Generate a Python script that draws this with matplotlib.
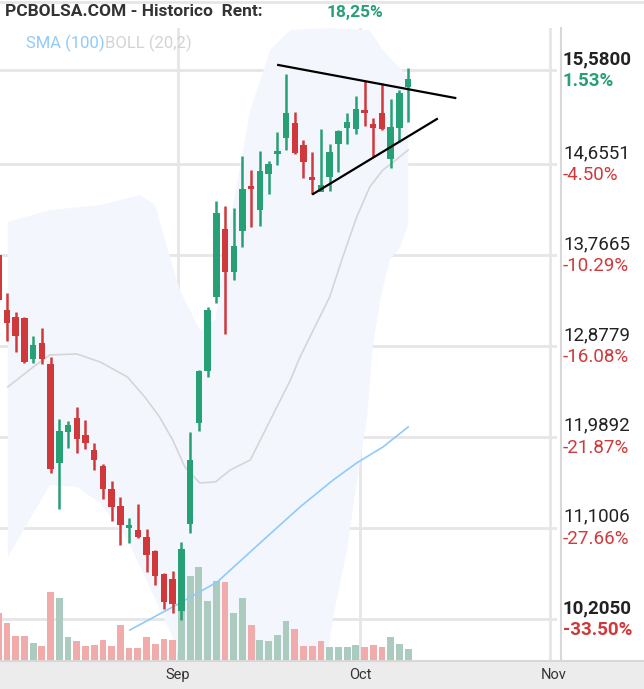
import matplotlib
matplotlib.use("Agg")
import matplotlib.pyplot as plt
from matplotlib.lines import Line2D
from matplotlib.patches import Rectangle
import numpy as np

plt.rcParams['font.family'] = ['Roboto', 'DejaVu Sans']

opens = [13.769,13.230,13.162,13.152,12.751,12.907,12.702,11.733,12.036,12.173,12.007,11.860,11.703,11.478,11.311,11.096,11.077,11.008,10.871,10.646,10.597,10.284,11.135,12.124,12.633,13.358,14.023,13.602,14.004,14.435,14.210,14.562,14.758,14.914,15.061,14.846,14.532,14.386,14.532,14.855,15.012,15.002,15.169,15.051,15.159,14.709,15.012,15.414]
highs = [13.818,13.397,13.211,13.162,12.976,13.054,12.770,12.163,12.144,12.281,12.153,11.928,11.723,11.556,11.400,11.194,11.331,11.086,10.881,10.656,10.675,10.959,12.036,12.643,13.260,14.298,14.249,14.229,14.738,14.601,14.787,14.689,14.973,15.541,15.169,14.895,14.777,15.002,14.855,14.993,15.159,15.325,15.472,15.110,15.453,15.296,15.384,15.600]
lows = [13.250,12.927,12.819,12.712,12.712,12.702,11.635,11.282,11.879,11.830,11.870,11.664,11.380,11.165,10.930,10.949,10.998,10.665,10.538,10.303,10.264,10.196,11.047,12.046,12.574,13.299,12.995,13.524,13.847,14.043,14.053,14.366,14.650,14.797,14.758,14.523,14.366,14.435,14.395,14.581,14.855,14.953,15.032,14.728,14.993,14.621,14.875,15.071]
closes = [13.328,13.103,12.976,12.721,12.888,12.751,11.674,12.046,12.105,11.968,11.928,11.762,11.478,11.302,11.125,11.125,11.008,10.832,10.626,10.372,10.352,10.891,11.762,12.633,13.230,14.180,13.602,13.857,14.415,14.415,14.591,14.660,14.777,15.159,14.767,14.679,14.503,14.454,14.777,14.983,15.071,15.198,15.159,15.012,15.002,15.022,15.355,15.492]
volumes = [47,37,24,24,17,14,68,62,23,19,14,15,20,14,35,12,12,23,16,21,20,111,84,93,59,79,78,47,62,35,20,19,25,39,31,14,14,19,13,13,13,15,13,15,13,23,16,11]
vol_up = [0,0,0,0,1,0,0,1,1,0,0,0,0,0,0,0,0,0,0,0,0,1,1,1,1,1,0,1,1,0,1,1,1,1,0,0,0,0,1,1,1,1,0,0,0,1,1,1]

boll_up_x = [1.1,5.9,11.7,16.3,18.0,19.1,20.8,23.1,24.9,26.6,28.9,31.2,33.5,38.0,42.6,44.1,47.0]
boll_up_y = [14.092,14.209,14.258,14.356,14.258,13.916,13.426,13.035,13.133,14.112,15.188,15.776,15.972,15.990,15.970,15.776,15.511]
boll_lo_x = [1.1,5.9,9.0,11.7,14.8,16.6,20.0,22.0,28.9,34.6,37.7,38.4,40.0,41.1,42.3,42.9,43.8,44.9,46.1,47.0]
boll_lo_y = [10.812,11.517,11.498,11.341,10.979,10.656,10.029,9.510,8.923,9.217,9.804,10.225,10.881,11.537,12.183,12.839,13.328,13.720,13.847,14.063]
boll_mid_x = [1.1,4.0,5.9,9.0,11.7,14.8,16.8,18.5,20.0,21.4,23.1,24.9,26.6,28.9,31.2,33.5,34.6,38.0,39.5,41.1,42.6,44.1,45.3,47.0]
boll_mid_y = [12.477,12.672,12.790,12.800,12.721,12.575,12.379,12.183,11.958,11.693,11.537,11.547,11.664,11.762,12.154,12.545,12.770,13.358,13.749,14.141,14.435,14.601,14.679,14.797]
sma_x = [15.1,20.0,25.1,30.4,34.6,38.4,41.1,44.1,47.0]
sma_y = [10.098,10.323,10.567,10.979,11.302,11.566,11.733,11.889,12.085]
trend_up = ([32.1,52.4],[15.629,15.306])
trend_lo = ([36.1,50.3],[14.366,15.100])

price_ticks = [15.5800,14.6551,13.7665,12.8779,11.9892,11.1006,10.2050]
pct_labels = ['1.53%','-4.50%','-10.29%','-16.08%','-21.87%','-27.66%','-33.50%']
month_pos = [20.61,41.48,63.27]
month_labels = ['Sep','Oct','Nov']

W,H = 644,689
fig = plt.figure(figsize=(W/100,H/100),dpi=100)
fig.patch.set_facecolor('white')
def fx(px): return px/W
def fy(py): return 1-py/H

rect = [0, fy(660), fx(557), (660-28)/H]
XL = (0.197, 64.07); YL = (9.804, 15.991)

bg = fig.add_axes(rect)
bg.set_xlim(*XL); bg.set_ylim(*YL); bg.axis('off')
grid_c = '#e6e6e8'
for p in price_ticks:
    bg.axhline(p, color=grid_c, lw=2, zorder=0)
for m in month_pos:
    bg.axvline(m, color=grid_c, lw=2, zorder=0)
bg.fill(np.concatenate([boll_up_x, boll_lo_x[::-1]]), np.concatenate([boll_up_y, boll_lo_y[::-1]]),
        color='#f3f7fd', lw=0, zorder=1)

vax = fig.add_axes(rect)
vax.set_xlim(*XL); vax.set_ylim(0, 632); vax.axis('off')
n = len(opens)
x = np.arange(n)
vax.bar(x, volumes, width=0.78, color=['#abcbbf' if u else '#f2abab' for u in vol_up], zorder=1)

ax = fig.add_axes(rect)
ax.set_xlim(*XL); ax.set_ylim(*YL); ax.axis('off')
ax.plot(boll_mid_x, boll_mid_y, color='#d5d5d5', lw=1.2, zorder=2)
ax.plot(sma_x, sma_y, color='#90caf9', lw=1.2, zorder=2)

green, red = '#26a074', '#d0393b'
for i in range(n):
    c = green if closes[i] >= opens[i] else red
    ax.plot([i,i],[lows[i],highs[i]], color=c, lw=1.8, zorder=4, solid_capstyle='butt')
    b0 = min(opens[i],closes[i]); h = max(abs(closes[i]-opens[i]), 0.025)
    ax.add_patch(Rectangle((i-0.37, b0), 0.74, h, color=c, lw=0, zorder=5))

ax.plot(*trend_up, color='black', lw=1.6, zorder=6)
ax.plot(*trend_lo, color='black', lw=1.6, zorder=6)

fig.add_artist(Line2D([0,1],[fy(1.5),fy(1.5)], color='#e6e6e6', lw=2))
fig.add_artist(Line2D([fx(561),fx(561)],[fy(28),fy(661)], color='#d8d8d8', lw=1.5))
fig.add_artist(Rectangle((0,0),1,(689-661)/H, transform=fig.transFigure, color='#ececec', lw=0))
fig.add_artist(Line2D([0,1],[fy(661),fy(661)], color='#d8d8d8', lw=1.5))

label_px = [178, 360, 554]
for xp, lab in zip(label_px, month_labels):
    fig.text(fx(xp), fy(675), lab, ha='center', va='center', fontsize=10.5, color='#333333')

for k,(p,lab) in enumerate(zip(price_ticks,pct_labels)):
    yp = (YL[1]-p)/(YL[1]-YL[0])*632+28
    bold = k in (0, len(price_ticks)-1)
    fig.text(fx(563), fy(yp-11), f"{p:.4f}".replace('.',','), ha='left', va='center', fontsize=13.5,
             color='#222222', fontweight='bold' if bold else 'normal')
    fig.text(fx(563), fy(yp+11), lab, ha='left', va='center', fontsize=13.5,
             color=green if k == 0 else red, fontweight='bold' if bold else 'normal')

fig.text(fx(5), fy(12), 'PCBOLSA.COM - Historico  Rent:', ha='left', va='center', fontsize=12.5,
         color='#333333', fontweight='bold')
fig.text(fx(327), fy(12), '18,25%', ha='left', va='center', fontsize=12.5, color=green, fontweight='bold')
t1 = fig.text(fx(26), fy(43), 'SMA (100)', ha='left', va='center', fontsize=12, color='#90caf9')
fig.canvas.draw()
bb = t1.get_window_extent()
fig.text(bb.x1/W, fy(43), 'BOLL (20,2)', ha='left', va='center', fontsize=12, color='#d3d3d3')

fig.savefig('out.png', dpi=100)
